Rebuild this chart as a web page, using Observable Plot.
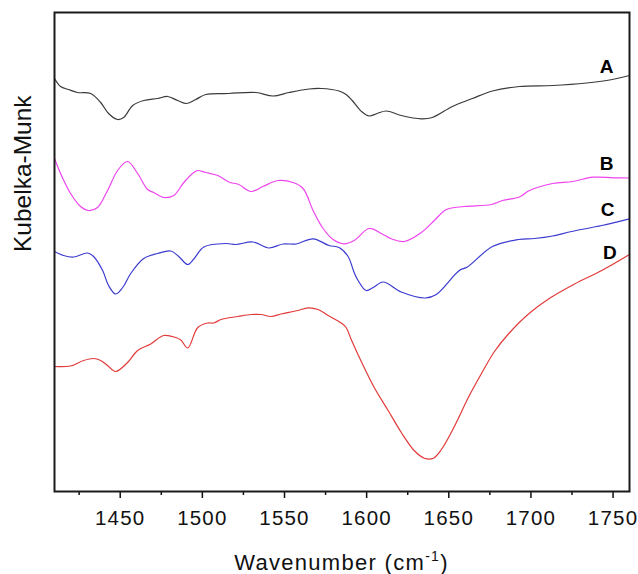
<!DOCTYPE html>
<html><head><meta charset="utf-8">
<script src="https://cdn.jsdelivr.net/npm/d3@7"></script>
<script src="https://cdn.jsdelivr.net/npm/@observablehq/plot@0.6"></script>
<style>
body{margin:0;background:#fff;}
svg text{font-family:"Liberation Sans",Arial,sans-serif;}
g[aria-label="x-axis tick label"] text{letter-spacing:1.2px;}
</style></head><body><div id="chart"></div>
<script>
// Wavenumber (cm-1) and Kubelka-Munk (arbitrary, offset) values
const wnA = [1410,1413.7,1418.5,1424,1432,1438.1,1442.9,1448.4,1452.1,1457.6,1464.3,1472.8,1478.9,1485,1490.5,1496,1502.1,1516.1,1532.6,1543,1552.7,1564.9,1572.3,1583.2,1587.5,1591.2,1597.3,1601.5,1606.4,1611.9,1621.1,1633.3,1640,1652.2,1664.4,1676.6,1693,1713.2,1733.9,1747.9,1760];
const kmA = [413,405,402,399,398,389,378,372,374,386,391,393,395,391,388,392,397,398,399,395.5,399,402.5,403,400.5,397,391,379.5,375.5,378,380.5,376,372.7,374,385,393,400.5,405,406,408.5,411.5,416];

const wnB = [1410,1413.7,1419.8,1425.9,1430.7,1436.2,1442.3,1448.4,1454.5,1460.6,1466.7,1470.4,1476.5,1482.6,1488.7,1494.8,1497.2,1502.1,1509.4,1516.1,1522.2,1529.6,1536.9,1546,1555.2,1561.3,1567.4,1573.5,1579.6,1586.3,1592.4,1601.5,1608.9,1615,1622.9,1633.3,1641.2,1648.5,1659.5,1676,1682.7,1693,1699.1,1713.2,1725.4,1737.6,1750.4,1760];
const kmB = [333,318,298,285,281,284,301,321,330,318,302,299,294,296,309,319,321,319,316,309.5,307,300,305,311,309,303,281,263,252,247.7,251,263,258,252.7,250,259,271,282,285,287,291,294.5,301,308,310,314.3,313.7,313.5];

const wnC = [1410,1415.5,1421.6,1430.1,1433.8,1439.3,1442.9,1447.2,1451.5,1456.4,1464.3,1472.8,1480.8,1485.6,1491.1,1494.8,1500.9,1514.3,1520.4,1530.8,1540.5,1549.1,1557,1567.4,1577.1,1583.2,1588.7,1592.4,1594.8,1599.7,1604,1610.1,1621.1,1635.7,1642.4,1656.4,1661.3,1676.6,1692.4,1702.2,1713.2,1724.8,1743.1,1760];
const kmC = [240,236,234.5,238.5,235,221,206,197.5,204,218,233,238,240.5,235,227,232.5,244.5,248,247,249.5,243.5,247.5,247.5,252.7,246,244,235,219,211,201,204,209.5,199.5,193.5,197,221,224.5,245,252,253,255.5,260,266,272.7];

const wnD = [1410,1419.8,1427.7,1433.8,1438.1,1442.3,1447.2,1454.5,1460.6,1468.6,1476.5,1483.8,1486.9,1491.1,1497.2,1503.3,1507,1511.3,1521.6,1529.6,1535.7,1541.8,1547.9,1558.2,1564.3,1570.4,1576.5,1584.5,1587.5,1590.6,1597.3,1604.6,1613.1,1621.1,1628.9,1635.1,1640.6,1645.5,1653.4,1661.9,1669.9,1677.8,1686.3,1698.5,1710.7,1726.6,1743.1,1760];
const kmD = [125,125.5,131,133,131,126,120,129,141,147.5,156,154,151.5,143.5,164,168.5,168.5,172,175,177,177,175,177.5,181,183.7,182,176,168.5,164,152,128,104,81,59,41,33.3,33.3,42,65,94,118,140,157.5,177.5,192.5,207.5,221,237];

const seriesNames = ["A","B","C","D"];
const seriesColors = ["#3a3a3a","#ee44ee","#3b3bd0","#e23a3a"];
const labelWn = [1746,1746.1,1746.7,1748];
const labelKm = [424.7,327.7,281.7,238.7];

const majorTicks = [1450,1500,1550,1600,1650,1700,1750];
const minorTicks = [1425,1475,1525,1575,1625,1675,1725];

const toRows = (wn, km) => wn.map((w, i) => ({w, v: km[i]}));
const rows = [toRows(wnA,kmA), toRows(wnB,kmB), toRows(wnC,kmC), toRows(wnD,kmD)];
const labels = seriesNames.map((s, i) => ({s, w: labelWn[i], v: labelKm[i]}));

const chart = Plot.plot({
  width: 638, height: 574,
  marginLeft: 54, marginRight: 9, marginTop: 12, marginBottom: 83,
  style: {background: "#fff", color: "#111", fontFamily: "Liberation Sans, Arial, sans-serif"},
  x: {domain: [1410, 1760]},
  y: {domain: [0, 479], axis: null},
  marks: [
    ...rows.map((r, i) => Plot.line(r, {x: "w", y: "v", stroke: seriesColors[i], strokeWidth: 1.2, curve: "catmull-rom"})),
    Plot.text(labels, {x: "w", y: "v", text: "s", fontWeight: "bold", fontSize: 19, fill: "#000"}),
    Plot.text(["Kubelka-Munk"], {frameAnchor: "left", text: d => d, rotate: -90, dx: -31, fontSize: 24.5, fill: "#111"}),
    Plot.axisX(minorTicks, {tickSize: 4, tickFormat: () => "", label: null, strokeWidth: 1.5}),
    Plot.axisX(majorTicks, {tickSize: 7, tickPadding: 12, fontSize: 20.5, tickFormat: d => String(d), label: null, strokeWidth: 1.5}),
    Plot.frame({stroke: "#1a1a1a", strokeWidth: 2})
  ]
});
document.getElementById("chart").appendChild(chart);

// x-axis title with superscript
const t = d3.select(chart).append("text")
  .attr("x", 341.5).attr("y", 570).attr("text-anchor", "middle")
  .attr("font-size", 22).attr("fill", "#111").style("letter-spacing", "1.3px");
t.append("tspan").text("Wavenumber (cm");
t.append("tspan").attr("font-size", 14).attr("dy", -9).text("-1");
t.append("tspan").attr("font-size", 22).attr("dy", 9).text(")");
</script></body></html>
